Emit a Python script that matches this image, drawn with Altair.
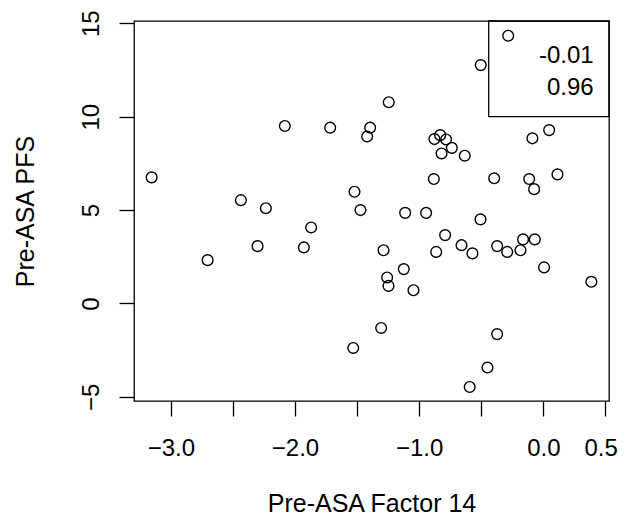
import altair as alt
import pandas as pd

factor14 = [-2.082, -3.155, -2.436, -2.235, -1.245, -1.717, -1.395, -1.419, -0.877, -0.831,
            -0.783, -0.820, -0.882, -1.521, -1.473, -1.113, -0.944, -0.283, -0.504, -0.737,
            -0.633, -0.088, 0.047, -0.396, -0.114, -0.074, 0.114, -2.302, -2.704, -1.929,
            -1.870, -0.791, -1.287, -0.863, -1.124, -1.258, -1.247, -1.046, -1.306, -1.531,
            -0.506, -0.659, -0.571, -0.372, -0.291, -0.184, -0.163, -0.069, 0.006, 0.387,
            -0.372, -0.450, -0.593]
pfs = [9.50, 6.75, 5.53, 5.10, 10.77, 9.41, 9.41, 8.94, 8.80, 9.01,
       8.78, 8.03, 6.66, 5.98, 5.00, 4.85, 4.85, 14.33, 12.76, 8.33,
       7.91, 8.84, 9.28, 6.70, 6.66, 6.12, 6.91, 3.07, 2.32, 3.00,
       4.07, 3.66, 2.85, 2.76, 1.84, 1.39, 0.94, 0.71, -1.31, -2.38,
       4.50, 3.12, 2.68, 3.07, 2.76, 2.85, 3.43, 3.43, 1.93, 1.16,
       -1.64, -3.43, -4.47]
x_ticks = [-3.0, -2.5, -2.0, -1.5, -1.0, -0.5, 0.0, 0.5]
x_labelled = [-3.0, -2.0, -1.0, 0.0, 0.5]
y_ticks = [-5, 0, 5, 10, 15]
legend_lines = ["-0.01", "0.96"]

df = pd.DataFrame({"x": factor14, "y": pfs})
FONT = "Liberation Sans"
W, H = 475, 380

label_expr = "indexof([" + ",".join(str(v) for v in x_labelled) + "], datum.value) >= 0 ? format(datum.value, '.1f') : ''"

points = alt.Chart(df).mark_point(
    shape="circle", filled=False, color="black", size=115, strokeWidth=1.4, opacity=1
).encode(
    x=alt.X("x:Q", scale=alt.Scale(domain=[-3.297, 0.529], nice=False, zero=False),
            axis=alt.Axis(values=x_ticks, labelExpr=label_expr, title="Pre-ASA Factor 14",
                          grid=False, domain=False, tickSize=15, tickWidth=1.3, tickColor="black",
                          labelFont=FONT, labelFontSize=24, labelColor="black", labelPadding=20,
                          labelFlush=5, labelFlushOffset=12, labelOverlap=False,
                          titleFont=FONT, titleFontSize=25, titleFontWeight="normal", titleColor="black",
                          titleBaseline="alphabetic", titleY=110)),
    y=alt.Y("y:Q", scale=alt.Scale(domain=[-5.22, 15.12], nice=False, zero=False),
            axis=alt.Axis(values=y_ticks, format="d", title="Pre-ASA PFS",
                          grid=False, domain=False, tickSize=15, tickWidth=1.3, tickColor="black",
                          labelFont=FONT, labelFontSize=24, labelColor="black", labelPadding=16,
                          labelAngle=-90, labelAlign="center", labelBaseline="bottom",
                          labelFlush=False, labelOverlap=False,
                          titleFont=FONT, titleFontSize=25, titleFontWeight="normal", titleColor="black",
                          titleAngle=-90, titleBaseline="alphabetic", titleX=-101, titleY=H / 2)),
)

box = alt.Chart(pd.DataFrame({"k": [0]})).mark_rect(
    fill="white", fillOpacity=0, stroke="black", strokeWidth=1.3
).encode(
    x=alt.value(354.7), x2=alt.value(W), y=alt.value(0), y2=alt.value(95.7)
)

leg_layers = []
for i, line in enumerate(legend_lines):
    leg_layers.append(
        alt.Chart(pd.DataFrame({"t": [line]})).mark_text(
            align="right", baseline="alphabetic", font=FONT, fontSize=24, color="black"
        ).encode(text="t:N", x=alt.value(459.7), y=alt.value(41.5 + 32 * i))
    )

chart = alt.layer(points, box, *leg_layers).properties(
    width=W, height=H,
    autosize=alt.AutoSizeParams(type="none"),
    padding={"left": 126, "top": 13, "right": 9, "bottom": 116},
    background="white",
).configure_view(stroke="black", strokeWidth=1.3)

chart.save("out.html", embed_options={"renderer": "svg", "actions": False})
